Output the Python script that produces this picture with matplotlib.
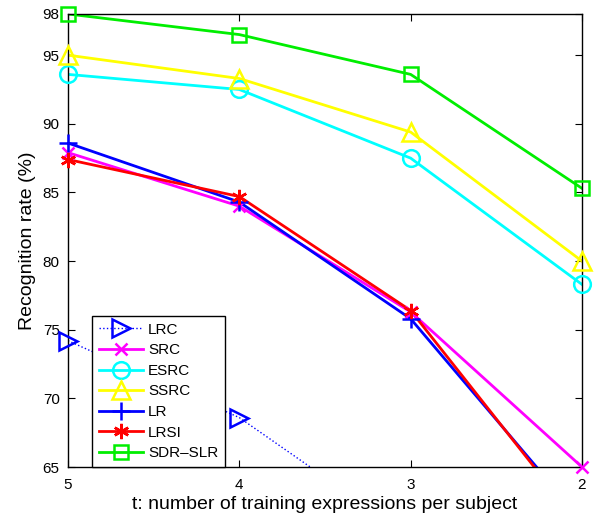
import matplotlib
matplotlib.use("Agg")
import matplotlib.pyplot as plt
from matplotlib.lines import Line2D
import numpy as np

plt.rcParams['font.family'] = ['Liberation Sans', 'DejaVu Sans']

x = [5, 4, 3, 2]
lrc = [74.2, 68.6, 59.9, 55.0]
src = [87.9, 84.0, 76.3, 65.0]
esrc = [93.6, 92.5, 87.5, 78.3]
ssrc = [95.0, 93.3, 89.4, 80.0]
lr = [88.6, 84.3, 75.8, 61.1]
lrsi = [87.4, 84.7, 76.4, 60.6]
sdr_slr = [98.0, 96.5, 93.6, 85.3]

xticks = [5, 4, 3, 2]
yticks = [65, 70, 75, 80, 85, 90, 95, 98]
ymin, ymax = 65, 98

fig = plt.figure(figsize=(5.98, 5.20), dpi=100)
ax = fig.add_axes([0.1137, 0.1019, 0.8595, 0.8712])

mew = 1.8
series = [
    ('LRC', lrc, '#0000ff', ':', 1.0, '>', 13, 'none'),
    ('SRC', src, '#ff00ff', '-', 2.0, 'x', 9, None),
    ('ESRC', esrc, '#00ffff', '-', 2.0, 'o', 12, 'none'),
    ('SSRC', ssrc, '#ffff00', '-', 2.0, '^', 13, 'none'),
    ('LR', lr, '#0000ff', '-', 2.0, '+', 13, None),
    ('LRSI', lrsi, '#ff0000', '-', 2.0, (6, 2, 0), 11, None),
    ('SDR\u2013SLR', sdr_slr, '#00ee00', '-', 2.0, 's', 10, 'none'),
]

handles = []
for name, vals, col, ls, lw, mk, ms, mfc in series:
    ax.plot(x, vals, color=col, ls=ls, lw=lw)
    shown = np.ma.masked_less(np.array(vals, dtype=float), ymin)
    kw = dict(mfc=mfc) if mfc else {}
    ax.plot(x, shown, ls='none', marker=mk, ms=ms, mew=mew, color=col,
            clip_on=False, zorder=3, **kw)
    handles.append(Line2D([], [], color=col, ls=ls, lw=lw, marker=mk, ms=ms,
                          mew=mew, label=name, **kw))

ax.set_xlim(5, 2)
ax.set_ylim(ymin, ymax)
ax.set_xticks(xticks)
ax.set_yticks(yticks)
ax.tick_params(direction='in', top=True, right=True, labelsize=11, length=5)
ax.tick_params(axis='y', pad=6)
ax.tick_params(axis='x', pad=8)
for s in ax.spines.values():
    s.set_linewidth(1.0)

ax.set_xlabel('t: number of training expressions per subject', fontsize=14, labelpad=3)
ax.set_ylabel('Recognition rate (%)', fontsize=14, labelpad=5)

leg = ax.legend(handles=handles, loc='lower left', bbox_to_anchor=(0.047, 0.0),
                borderaxespad=0, fancybox=False, edgecolor='black', framealpha=1,
                fontsize=11, handlelength=2.9, handletextpad=0.3,
                labelspacing=0.43, borderpad=0.45)
leg.get_frame().set_linewidth(1.0)
leg.set_zorder(5)

fig.savefig('out.png', dpi=100)
